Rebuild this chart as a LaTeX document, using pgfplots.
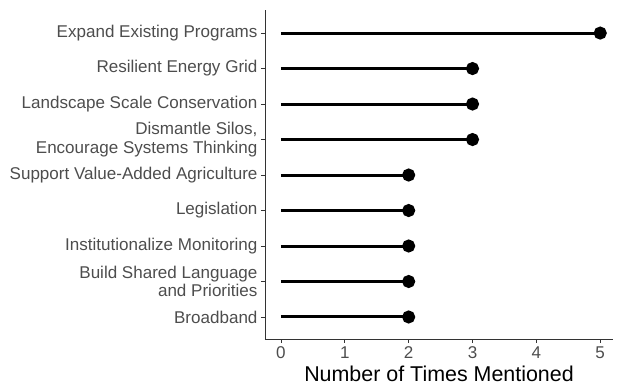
\documentclass[border=0pt]{standalone}
\usepackage{pgfplots}
\pgfplotsset{compat=1.18}
\usepackage{fontspec}
\setmainfont{Liberation Sans}
\definecolor{ticktext}{HTML}{4D4D4D}
\definecolor{axisgray}{HTML}{333333}
\begin{document}
\begin{tikzpicture}[x=1bp,y=1bp]
\begin{axis}[
  name=ax,
  scale only axis,
  width=348bp, height=329bp,
  xmin=-0.25, xmax=5.2,
  ymin=0.38, ymax=9.65,
  axis x line*=bottom, axis y line*=left,
  axis line style={axisgray, line width=0.8bp, -},
  xtick={0,1,2,3,4,5},
  ytick={1,2,3,4,5,6,7,8,9},
  yticklabels={Broadband, {Build Shared Language\\and Priorities}, Institutionalize Monitoring, Legislation, Support Value-Added Agriculture, {Dismantle Silos,\\Encourage Systems Thinking}, Landscape Scale Conservation, Resilient Energy Grid, Expand Existing Programs},
  yticklabel style={align=right, font=\fontsize{17.1}{18.5}\selectfont, text=ticktext},
  xticklabel style={font=\fontsize{17.1}{18.5}\selectfont, text=ticktext},
  /pgf/number format/assume math mode=true,
  tick style={axisgray, line width=0.8bp},
  tick align=outside,
  major tick length=4bp,
  xlabel={Number of Times Mentioned},
  xlabel style={font=\fontsize{21.5}{24}\selectfont, text=black, yshift=-1bp},
  clip=false,
]
\addplot[xcomb, black, line width=3bp, mark=*, mark size=5bp, mark options={fill=black}] coordinates {
  (2,1) (2,2) (2,3) (2,4) (2,5) (3,6) (3,7) (3,8) (5,9)
};
\end{axis}
\pgfresetboundingbox
\path[use as bounding box] ([shift={(-265bp,-47bp)}]ax.south west) rectangle ([shift={(7bp,10bp)}]ax.north east);
\end{tikzpicture}
\end{document}
